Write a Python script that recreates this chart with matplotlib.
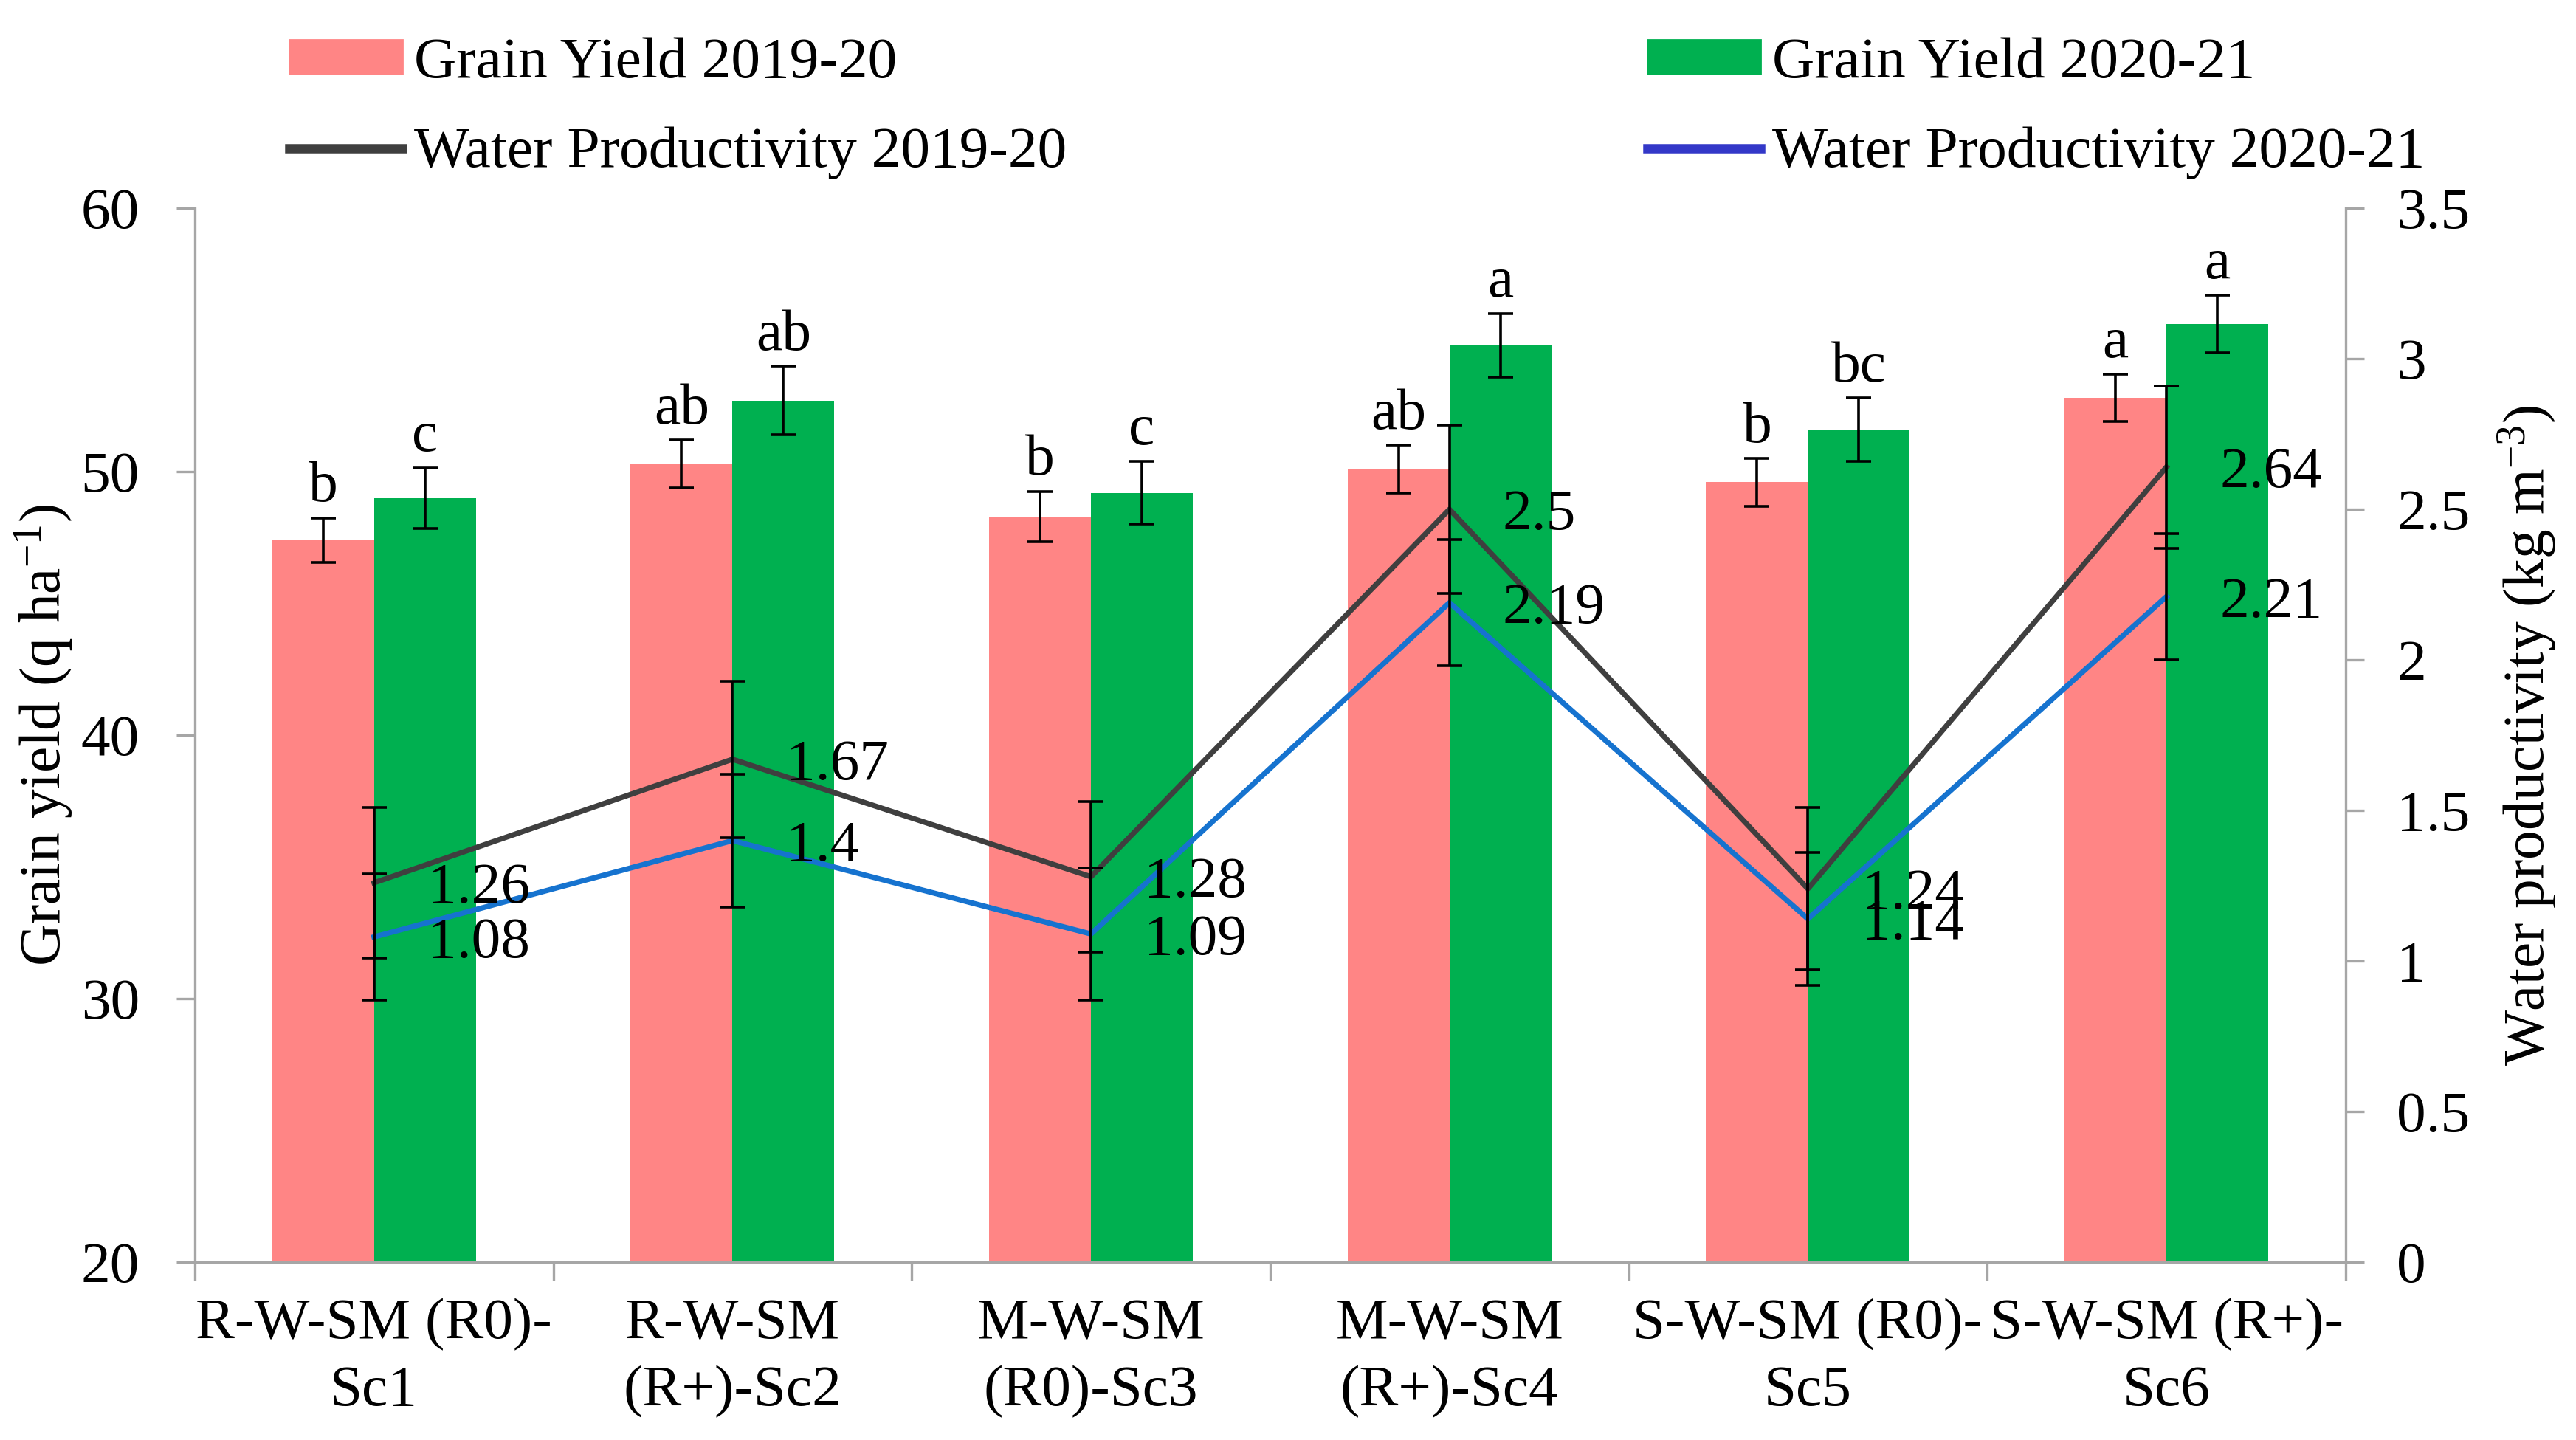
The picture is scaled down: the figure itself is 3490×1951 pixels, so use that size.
import numpy as np
import matplotlib
matplotlib.use("Agg")
import matplotlib.pyplot as plt
from matplotlib.patches import Patch
from matplotlib.lines import Line2D
from matplotlib.ticker import FuncFormatter

plt.rcParams['font.family'] = ['Liberation Serif', 'DejaVu Serif']
plt.rcParams['mathtext.fontset'] = 'custom'
plt.rcParams['mathtext.rm'] = 'Liberation Serif'
plt.rcParams['mathtext.it'] = 'Liberation Serif:italic'
plt.rcParams['mathtext.bf'] = 'Liberation Serif:bold'

# data
categories = ['R-W-SM (R0)-\nSc1', 'R-W-SM\n(R+)-Sc2', 'M-W-SM\n(R0)-Sc3',
              'M-W-SM\n(R+)-Sc4', 'S-W-SM (R0)-\nSc5', 'S-W-SM (R+)-\nSc6']
gy_1920 = [47.4, 50.3, 48.3, 50.1, 49.6, 52.8]
gy_1920_err = [0.85, 0.9, 0.95, 0.9, 0.9, 0.9]
gy_2021 = [49.0, 52.7, 49.2, 54.8, 51.6, 55.6]
gy_2021_err = [1.15, 1.3, 1.2, 1.2, 1.2, 1.1]
wp_1920 = [1.26, 1.67, 1.28, 2.5, 1.24, 2.64]
wp_1920_err = [0.25, 0.26, 0.25, 0.28, 0.27, 0.27]
wp_2021 = [1.08, 1.4, 1.09, 2.19, 1.14, 2.21]
wp_2021_err = [0.21, 0.22, 0.22, 0.21, 0.22, 0.21]
letters_1920 = ['b', 'ab', 'b', 'ab', 'b', 'a']
letters_2021 = ['c', 'ab', 'c', 'a', 'bc', 'a']

FS = 28.6
pink = '#FF8585'
green = '#00B050'
dark = '#3F3F3F'
blue = '#1673CF'
gray = '#A6A6A6'

fig = plt.figure(figsize=(17.455, 9.755), dpi=200)
ax = fig.add_axes([0.0756, 0.1235, 0.8347, 0.7319])
ax2 = ax.twinx()

x = np.arange(len(categories))
w = 0.284
ekw = dict(ecolor='black', elinewidth=1.3, capthick=1.3)
ax.bar(x - w / 2, gy_1920, w, color=pink, yerr=gy_1920_err, capsize=6,
       error_kw=ekw, zorder=2)
ax.bar(x + w / 2, gy_2021, w, color=green, yerr=gy_2021_err, capsize=6,
       error_kw=ekw, zorder=2)

for i in range(len(x)):
    ax.annotate(letters_1920[i], (x[i] - w / 2, gy_1920[i] + gy_1920_err[i]),
                xytext=(0, 2), textcoords='offset points', ha='center',
                va='bottom', fontsize=FS)
    ax.annotate(letters_2021[i], (x[i] + w / 2, gy_2021[i] + gy_2021_err[i]),
                xytext=(0, 2), textcoords='offset points', ha='center',
                va='bottom', fontsize=FS)

ax.set_ylim(20, 60)
ax.set_yticks([20, 30, 40, 50, 60])
ax.set_xlim(-0.5, len(categories) - 0.5)
ax.set_xticks(x)
ax.set_xticklabels(categories, fontsize=FS, linespacing=1.36)
ax.set_xticks(np.arange(-0.5, len(categories)), minor=True)
ax.tick_params(axis='x', which='major', length=0, pad=17.5)
ax.tick_params(axis='x', which='minor', length=9, width=1.2, color=gray,
               direction='out')
ax.tick_params(axis='y', labelsize=FS, length=9, width=1.2, color=gray,
               direction='out', pad=18)

# water productivity on the secondary axis
ax2.plot(x, wp_1920, color=dark, lw=2.6, zorder=3)
ax2.plot(x, wp_2021, color=blue, lw=2.6, zorder=3)
ax2.errorbar(x, wp_1920, yerr=wp_1920_err, fmt='none', capsize=6, **ekw, zorder=4)
ax2.errorbar(x, wp_2021, yerr=wp_2021_err, fmt='none', capsize=6, **ekw, zorder=4)
for i in range(len(x)):
    ax2.annotate(f'{wp_1920[i]:g}', (x[i], wp_1920[i]), xytext=(26, 0),
                 textcoords='offset points', ha='left', va='center_baseline',
                 fontsize=FS)
    ax2.annotate(f'{wp_2021[i]:g}', (x[i], wp_2021[i]), xytext=(26, 0),
                 textcoords='offset points', ha='left', va='center_baseline',
                 fontsize=FS)
ax2.set_ylim(0, 3.5)
ax2.set_yticks(np.arange(0, 3.51, 0.5))
ax2.yaxis.set_major_formatter(FuncFormatter(lambda v, p: f'{v:g}'))
ax2.tick_params(axis='y', labelsize=FS, length=9, width=1.2, color=gray,
                direction='out', pad=16)

for a in (ax, ax2):
    a.spines['top'].set_visible(False)
    for s in ('left', 'right', 'bottom'):
        a.spines[s].set_color(gray)
        a.spines[s].set_linewidth(1.2)
ax.spines['right'].set_visible(False)
ax2.spines['left'].set_visible(False)
ax2.spines['bottom'].set_visible(False)

fig.text(60 / 3491, 0.4895, 'Grain yield (q ha$^{\\mathrm{-1}}$)', rotation=90,
         ha='center', va='center', fontsize=FS)
fig.text(3424 / 3491, 0.4895, 'Water productivity (kg m$^{\\mathrm{-3}}$)',
         rotation=90, ha='center', va='center', fontsize=FS)

handles = [Patch(color=pink), Line2D([], [], color=dark, lw=4.5),
           Patch(color=green), Line2D([], [], color='#3338C8', lw=4.5)]
labels = ['Grain Yield 2019-20', 'Water Productivity 2019-20',
          'Grain Yield 2020-21', 'Water Productivity 2020-21']
fig.legend(handles, labels, ncol=2, loc='upper left',
           bbox_to_anchor=(392 / 3491, 0.974), frameon=False, fontsize=FS,
           handlelength=1.93, handleheight=0.5, handletextpad=0.2,
           columnspacing=9.9, labelspacing=0.62, borderpad=0,
           borderaxespad=0)

fig.savefig('out.png', dpi=200)
